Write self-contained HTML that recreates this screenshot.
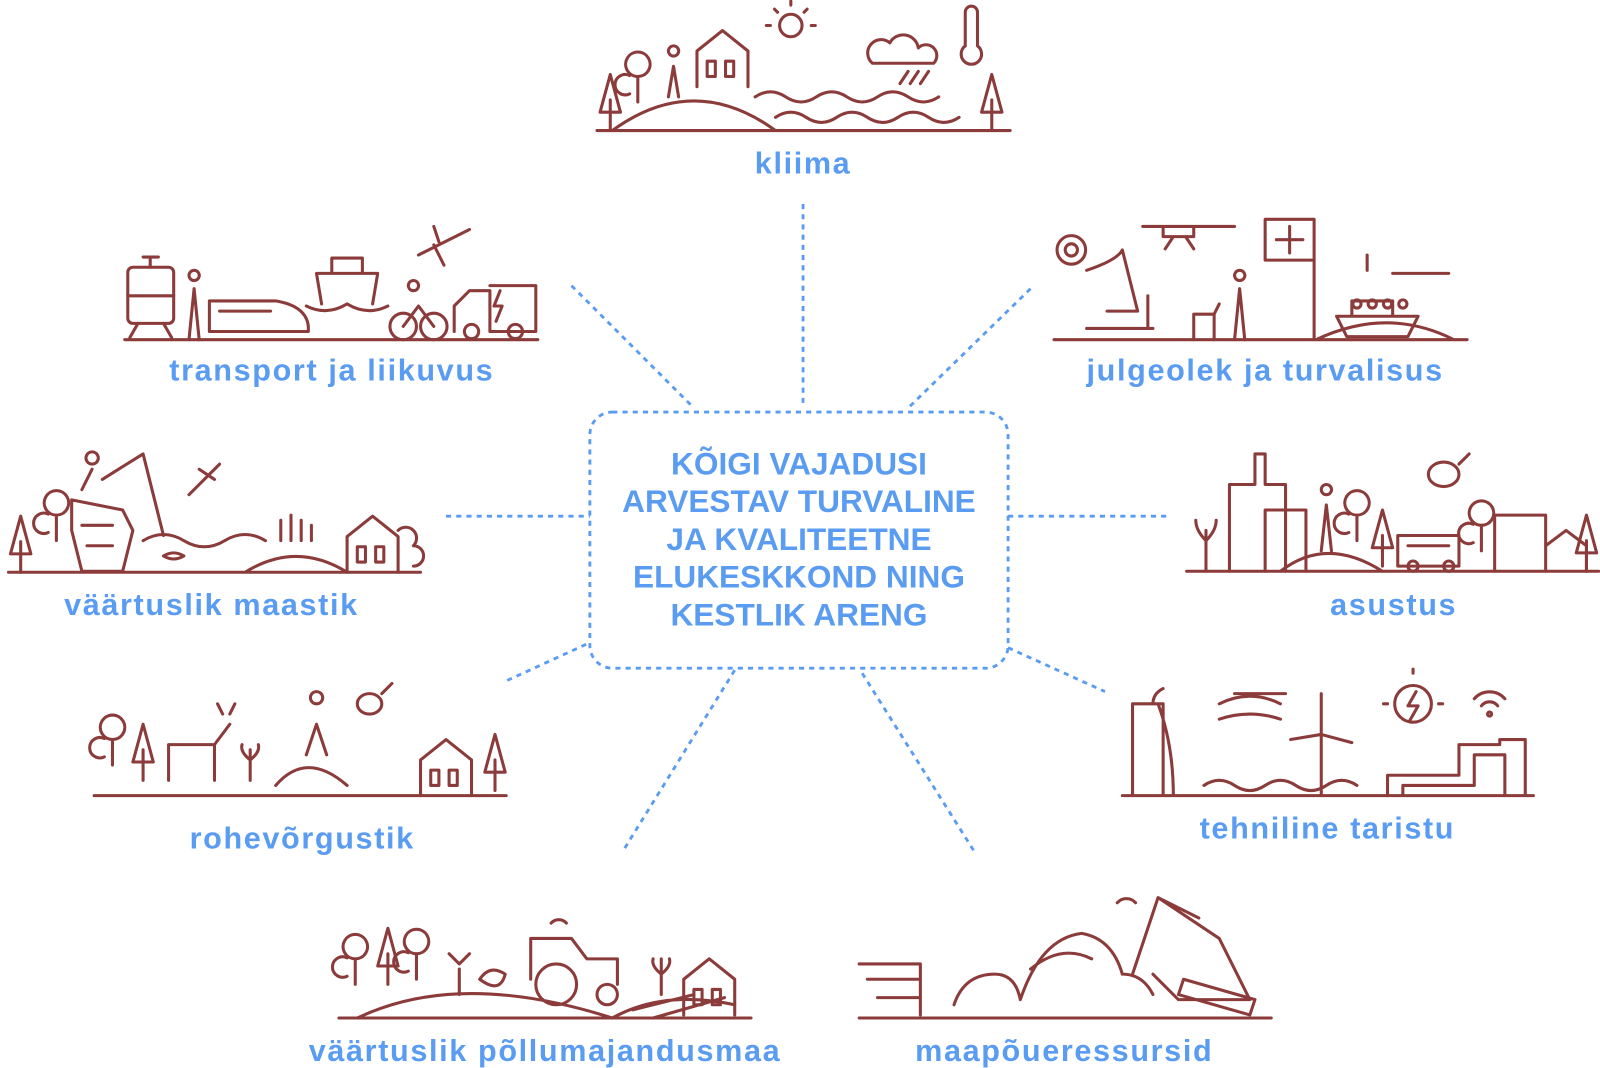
<!DOCTYPE html>
<html><head><meta charset="utf-8"><style>
html,body{margin:0;padding:0;background:#fff;}
svg{display:block}
.l{font-family:"Liberation Sans",sans-serif;font-weight:bold;font-size:30px;fill:#5a9cf2;text-anchor:middle;letter-spacing:1.6px}
.c{font-family:"Liberation Sans Narrow","Liberation Sans",sans-serif;font-weight:bold;font-size:31px;fill:#5a9cf2;text-anchor:middle}
.d{stroke:#5a9cf2;stroke-width:2.8;stroke-dasharray:5 5;fill:none}
.r{stroke:#8c3b3b;stroke-width:3;fill:none;stroke-linecap:round;stroke-linejoin:round}
</style></head><body>
<svg width="1600" height="1068" viewBox="0 0 1568 1047" xmlns="http://www.w3.org/2000/svg">
<defs>
<g id="tree"><path d="M0 0 V-30 M-10 -18 L0 -55 L10 -18 Z"/></g>
<g id="rtree"><path d="M0 0 V-25 M0 -25 a12 12 0 1 1 0.1 0 M-8 -8 a10 10 0 1 1 0 -18"/></g>
<g id="house"><path d="M0 0 V-35 L25 -55 L50 -35 V0 M10 -10 v-15 h8 v15 z M28 -10 v-15 h8 v15 z"/></g>
</defs>

<path class="d" d="M787 200 V400 M560 280 L680 400 M1010 283 L890 400 M437 506 H578 M988 506 H1143 M497 667 L578 630 M988 635 L1083 678 M720 657 L610 835 M845 660 L955 835"/>
<rect class="d" x="578" y="404" width="410" height="251" rx="22"/>
<text class="c" x="783" y="465">KÕIGI VAJADUSI</text>
<text class="c" x="783" y="502">ARVESTAV TURVALINE</text>
<text class="c" x="783" y="539">JA KVALITEETNE</text>
<text class="c" x="783" y="576">ELUKESKKOND NING</text>
<text class="c" x="783" y="613">KESTLIK ARENG</text>

<g class="r">
<path d="M585 128 H990 M600 128 Q680 70 760 128"/>
<use href="#tree" x="598" y="128"/><use href="#rtree" x="625" y="100"/><use href="#tree" x="972" y="128"/>
<use href="#house" x="683" y="85"/>
<path d="M655 95 l5 -30 l5 30 M660 55 a5 5 0 1 1 0.1 0"/>
<path d="M740 95 q15 -10 30 0 t30 0 t30 0 t30 0 t30 0 t30 0 M760 115 q15 -10 30 0 t30 0 t30 0 t30 0 t30 0 t30 0"/>
<circle cx="775" cy="25" r="11"/><path d="M775 5 v-4 M755 25 h-4 M795 25 h4 M762 12 l-3 -3 M788 12 l3 -3"/>
<path d="M855 62 h60 a10 10 0 0 0 -15 -15 a15 15 0 0 0 -28 -5 a12 12 0 0 0 -17 20 M890 70 l-8 12 M900 70 l-8 12 M910 70 l-8 12"/>
<path d="M946 45 V12 a6 6 0 0 1 12 0 V45 a10 10 0 1 1 -12 0"/>
<path d="M122 333 H527"/>
<rect x="125" y="262" width="45" height="55" rx="5"/><path d="M135 317 l-8 14 M160 317 l8 14 M140 252 h15 M147 252 v10 M125 290 h45"/>
<path d="M185 333 l5 -50 l5 50 M190 275 a5 5 0 1 1 0.1 0"/>
<path d="M205 325 V295 H270 Q300 300 302 320 L302 325 Z M215 305 h50"/>
<path d="M300 300 q20 10 40 -2 q20 12 40 2 M315 298 l-5 -30 h60 l-5 30 M325 268 v-15 h30 v15"/>
<path d="M410 250 l50 -25 M425 240 l10 20 M430 237 l-5 -15"/>
<circle cx="395" cy="320" r="13"/><circle cx="425" cy="320" r="13"/><path d="M395 320 l15 -20 l15 20 M405 285 a5 5 0 1 1 0.1 0"/>
<path d="M445 325 V300 l15 -15 h20 V325 M480 280 h45 v45 h-45 M490 285 l-6 15 h8 l-6 15"/>
<circle cx="462" cy="325" r="7"/><circle cx="505" cy="325" r="7"/>
<path d="M1033 333 H1438 M1290 333 Q1360 300 1425 333 M1288 333 V215 M1240 215 h48 v40 h-48 z M1264 222 v26 M1251 235 h26"/>
<circle cx="1050" cy="245" r="14"/><circle cx="1050" cy="245" r="6"/><path d="M1065 265 q30 -10 35 -20 l15 60 h-30 M1065 322 h65 M1125 320 v-30"/>
<path d="M1120 222 h90 M1140 222 v10 h30 v-10 M1150 232 l-8 12 M1162 232 l8 12"/>
<path d="M1170 333 v-25 h20 v25 M1190 308 l5 -10"/>
<path d="M1210 333 l5 -50 l5 50 M1215 275 a5 5 0 1 1 0.1 0"/>
<path d="M1310 310 h80 l-10 20 h-60 z M1325 310 v-15 h40 v15 M1365 268 h55 M1340 265 v-15"/><circle cx="1330" cy="298" r="4"/><circle cx="1345" cy="298" r="4"/><circle cx="1360" cy="298" r="4"/><circle cx="1375" cy="298" r="4"/>
<path d="M8 561 H412 M240 561 Q290 530 340 561"/>
<use href="#tree" x="20" y="561"/><use href="#rtree" x="55" y="530"/>
<path d="M70 490 l50 10 l10 20 l-10 40 h-40 l-10 -40 z M80 515 h30 M85 535 h25"/>
<path d="M80 480 l10 -20 M90 455 a6 6 0 1 1 0.1 0 M100 470 l40 -25 M140 445 l20 80"/>
<path d="M140 530 q20 -12 40 0 t40 0 t40 0 M160 545 q10 -6 20 0 q-10 6 -20 0"/>
<path d="M185 485 l30 -30 M195 460 l15 10"/>
<path d="M275 530 v-20 M285 530 v-25 M295 530 v-20 M305 530 v-15"/>
<use href="#house" x="340" y="561"/><path d="M390 520 a10 10 0 0 1 15 15 a10 10 0 0 1 0 20"/>
<path d="M1163 560 H1567 M1255 560 Q1300 525 1355 560"/>
<path d="M1182 560 v-40 M1182 530 q-10 -10 -10 -20 M1182 530 q10 -10 10 -20"/>
<path d="M1205 560 V475 h25 v-30 h10 v30 h20 v85 M1240 560 V500 h40 V560"/>
<path d="M1295 540 l5 -45 l5 45 M1300 485 a5 5 0 1 1 0.1 0"/>
<use href="#rtree" x="1330" y="530"/><use href="#tree" x="1355" y="555"/>
<path d="M1370 555 v-30 h60 v30 z M1380 535 h40"/><circle cx="1385" cy="555" r="5"/><circle cx="1420" cy="555" r="5"/>
<path d="M1400 465 a15 12 0 1 1 30 0 a15 12 0 1 1 -30 0 M1430 455 l10 -10"/>
<use href="#rtree" x="1452" y="540"/>
<path d="M1465 560 v-55 h50 v55 M1515 560 v-25 l20 -15 l20 15 v25"/>
<use href="#tree" x="1555" y="560"/>
<path d="M92 780 H496 M270 770 q30 -35 70 0"/>
<use href="#rtree" x="110" y="750"/><use href="#tree" x="140" y="765"/>
<path d="M165 765 v-35 h45 v35 M210 730 l15 -20 M218 700 l-5 -10 M225 700 l5 -10"/>
<path d="M245 765 v-30 M245 745 q-10 -8 -8 -15 M245 745 q10 -8 8 -15"/>
<path d="M300 740 l10 -30 l10 30 M310 690 a6 6 0 1 1 0.1 0"/>
<path d="M350 690 a12 10 0 1 1 24 0 a12 10 0 1 1 -24 0 M374 680 l10 -10"/>
<use href="#house" x="412" y="780"/><use href="#tree" x="485" y="775"/>
<path d="M1100 780 H1503 M1110 780 V690 h30 v90 M1150 780 q0 -50 -15 -90 M1130 690 q0 -10 10 -15"/>
<path d="M1195 690 q30 -15 60 0 M1195 705 q30 -10 60 0 M1210 680 h50"/>
<path d="M1180 770 q15 -10 30 0 t30 0 t30 0 t30 0 t30 0"/>
<path d="M1295 780 V720 M1295 720 L1265 725 M1295 720 L1325 728 M1295 720 L1295 680"/>
<circle cx="1385" cy="690" r="18"/><path d="M1388 678 l-8 14 h10 l-8 14 M1385 660 v-4 M1360 690 h-4 M1410 690 h4"/>
<path d="M1445 685 a20 20 0 0 1 30 0 M1452 692 a10 10 0 0 1 16 0"/><circle cx="1460" cy="700" r="2"/>
<path d="M1360 780 v-20 h70 v-30 h40 v-5 h25 v55 M1375 780 v-10 h70 v-30 h30 v40"/>
<path d="M332 998 H736 M350 998 Q450 950 600 998 M600 998 Q650 970 720 985 M620 990 l60 -15 M640 998 l70 -20"/>
<use href="#rtree" x="348" y="965"/><use href="#tree" x="380" y="965"/><use href="#rtree" x="408" y="960"/>
<path d="M450 975 v-25 M440 935 l10 10 l10 -10"/>
<path d="M470 960 q10 -15 25 -5 q-5 20 -25 5"/>
<path d="M520 960 v-40 h40 l15 20 h30 v25 M540 905 a10 10 0 0 1 15 0"/>
<circle cx="545" cy="965" r="20"/><circle cx="595" cy="975" r="10"/>
<path d="M648 975 v-35 M648 955 q-10 -8 -8 -15 M648 955 q10 -8 8 -15"/>
<use href="#house" x="670" y="995"/>
<path d="M842 998 H1246 M842 945 h60 v50 M850 960 h50 M860 978 h40"/>
<path d="M935 985 q10 -30 40 -30 q20 0 25 25 q20 -60 60 -65 q30 5 40 40 q20 0 30 20 M1010 950 q30 -25 60 -10"/>
<path d="M1110 955 l25 -75 l60 40 l30 60 h-70 l-25 -25 M1135 880 l40 20 M1095 885 a12 12 0 0 1 18 0"/>
<path d="M1160 960 l70 20 l-5 15 l-70 -20 z"/>
</g>

<text class="l" x="325" y="373">transport ja liikuvus</text>
<text class="l" x="787" y="170">kliima</text>
<text class="l" x="1240" y="373">julgeolek ja turvalisus</text>
<text class="l" x="207" y="603">väärtuslik maastik</text>
<text class="l" x="1366" y="603">asustus</text>
<text class="l" x="296" y="832">rohevõrgustik</text>
<text class="l" x="1301" y="822">tehniline taristu</text>
<text class="l" x="534" y="1040">väärtuslik põllumajandusmaa</text>
<text class="l" x="1043" y="1040">maapõueressursid</text>
</svg>
</body></html>
